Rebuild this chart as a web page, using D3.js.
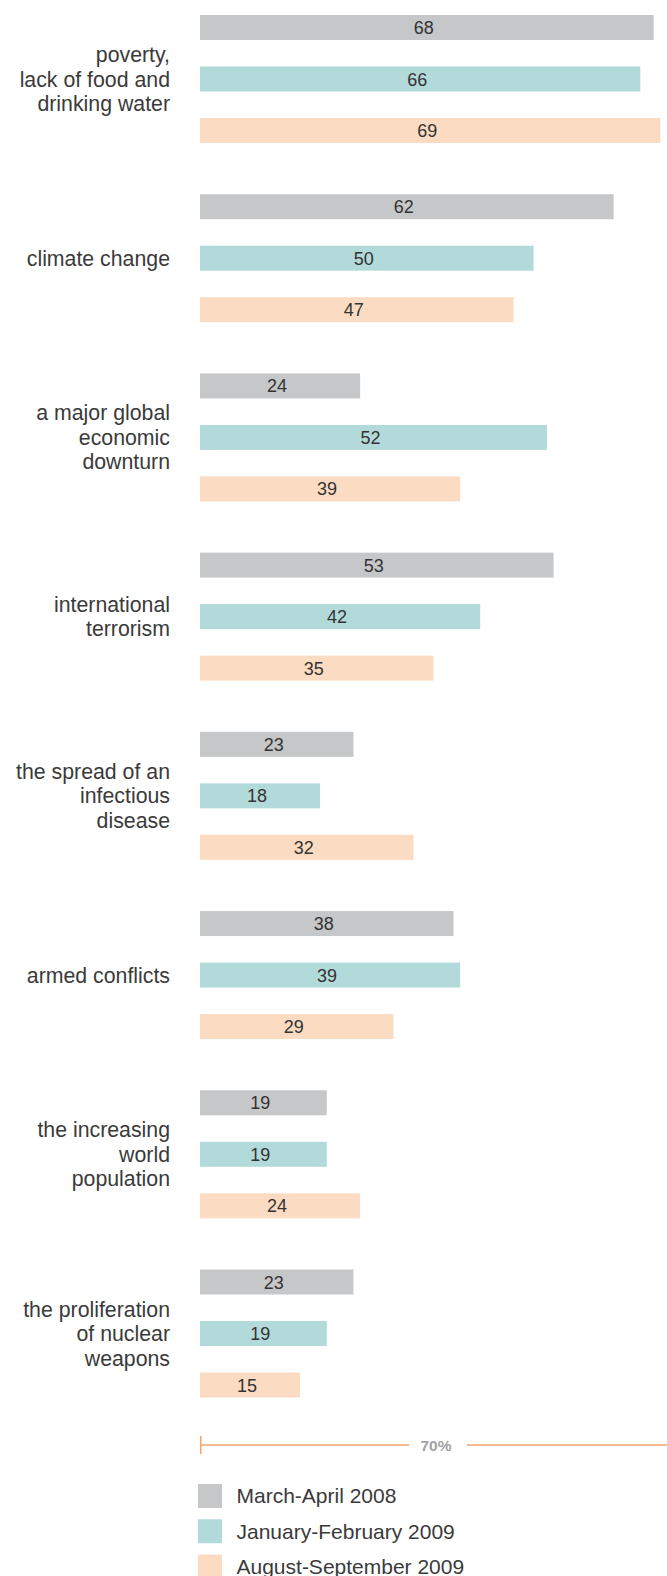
<!DOCTYPE html>
<html>
<head>
<meta charset="utf-8">
<script src="https://cdn.jsdelivr.net/npm/d3@7"></script>
<style>
  html, body { margin: 0; padding: 0; background: #fff; }
  svg { display: block; }
  text { font-family: "Liberation Sans", Arial, Helvetica, sans-serif; }
</style>
</head>
<body>
<svg id="chart" width="667" height="1576"></svg>
<script>
const categories = [
  ["poverty,", "lack of food and", "drinking water"],
  ["climate change"],
  ["a major global", "economic", "downturn"],
  ["international", "terrorism"],
  ["the spread of an", "infectious", "disease"],
  ["armed conflicts"],
  ["the increasing", "world", "population"],
  ["the proliferation", "of nuclear", "weapons"]
];
const seriesNames = ["March-April 2008", "January-February 2009", "August-September 2009"];
const march2008 = [68, 62, 24, 53, 23, 38, 19, 23];
const janFeb2009 = [66, 50, 52, 42, 18, 39, 19, 19];
const augSep2009 = [69, 47, 39, 35, 32, 29, 24, 15];
const seriesValues = [march2008, janFeb2009, augSep2009];
const axisMax = 70;
const axisLabel = "70%";

const colors = ["#c6c7c9", "#b3dadb", "#fbdbc1"];

const svg = d3.select("#chart");
const x = d3.scaleLinear().domain([0, axisMax]).range([200, 667]);
const yGroup = d3.scaleLinear().domain([0, categories.length - 1]).range([15, 1269.5]);
const yInner = d3.scalePoint().domain(d3.range(seriesNames.length)).range([0, 103]);
const barH = 25;

const data = [];
categories.forEach((c, i) => {
  seriesValues.forEach((vals, s) => {
    data.push({ cat: i, s: s, v: vals[i] });
  });
});

const bars = svg.append("g").selectAll("g").data(data).join("g");
bars.append("rect")
  .attr("x", x(0))
  .attr("y", d => yGroup(d.cat) + yInner(d.s))
  .attr("width", d => x(d.v) - x(0))
  .attr("height", barH)
  .attr("fill", d => colors[d.s]);
bars.append("text")
  .attr("x", d => (x(0) + x(d.v)) / 2 - 3)
  .attr("y", d => yGroup(d.cat) + yInner(d.s) + barH / 2 + 6.5)
  .attr("text-anchor", "middle")
  .attr("font-size", 18)
  .attr("fill", "#333")
  .text(d => d.v);

// category labels
const lineH = 24.5;
const labels = svg.append("g").selectAll("text").data(categories).join("text")
  .attr("text-anchor", "end")
  .attr("font-size", 21.3)
  .attr("fill", "#3a3a3a");
labels.each(function(lines, i) {
  const cy = yGroup(i) + yInner(1) + barH / 2 + 7.5;
  const start = cy - (lines.length - 1) / 2 * lineH;
  d3.select(this).selectAll("tspan").data(lines).join("tspan")
    .attr("x", 170)
    .attr("y", (d, k) => start + k * lineH)
    .text(d => d);
});

// scale indicator
const axisY = 1445;
const axisColor = "#f4a56c";
const ax = svg.append("g");
ax.append("line").attr("x1", x(0)).attr("x2", 409).attr("y1", axisY).attr("y2", axisY)
  .attr("stroke", axisColor).attr("stroke-width", 1.5);
ax.append("line").attr("x1", 467).attr("x2", x(axisMax)).attr("y1", axisY).attr("y2", axisY)
  .attr("stroke", axisColor).attr("stroke-width", 1.5);
ax.append("line").attr("x1", x(0) + 0.75).attr("x2", x(0) + 0.75).attr("y1", axisY - 9).attr("y2", axisY + 9)
  .attr("stroke", axisColor).attr("stroke-width", 1.5);
ax.append("text").attr("x", 436).attr("y", axisY + 6)
  .attr("text-anchor", "middle").attr("font-size", 15.5).attr("font-weight", "bold")
  .attr("fill", "#a2a2a2").text(axisLabel);

// legend
const legY = d3.scaleLinear().domain([0, seriesNames.length - 1]).range([1484, 1554.5]);
const leg = svg.append("g").selectAll("g").data(seriesNames).join("g");
leg.append("rect").attr("x", 198).attr("y", (d, i) => legY(i)).attr("width", 24).attr("height", 24)
  .attr("fill", (d, i) => colors[i]);
leg.append("text").attr("x", 236.5).attr("y", (d, i) => legY(i) + 19.3)
  .attr("font-size", 21).attr("fill", "#3a3a3a").text(d => d);
</script>
</body>
</html>
